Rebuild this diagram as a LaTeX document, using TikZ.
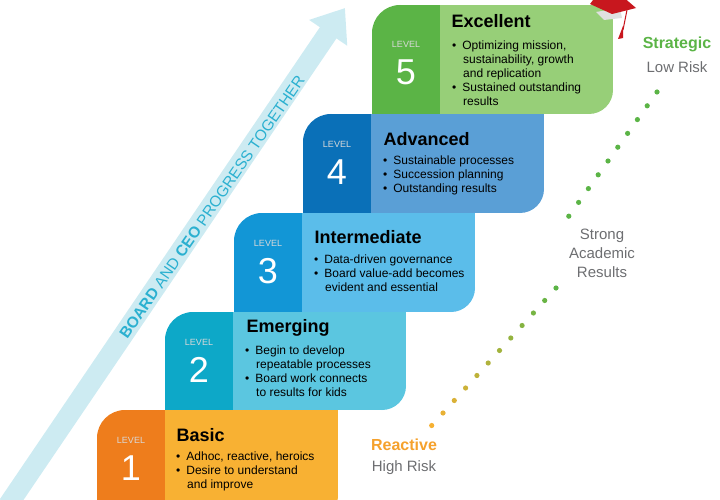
\documentclass[tikz,border=0pt]{standalone}
\usepackage{fontspec}
\setmainfont{Liberation Sans}
\usetikzlibrary{arrows.meta}
\definecolor{oDark}{HTML}{EE7D1C}
\definecolor{oLight}{HTML}{F8B133}
\definecolor{tDark}{HTML}{0DA8C8}
\definecolor{tLight}{HTML}{5BC6E0}
\definecolor{bDark}{HTML}{1296D6}
\definecolor{bLight}{HTML}{5BBDEA}
\definecolor{nDark}{HTML}{0A70B8}
\definecolor{nLight}{HTML}{5A9FD6}
\definecolor{gDark}{HTML}{5BB446}
\definecolor{gLight}{HTML}{97CF78}
\definecolor{arrowCol}{HTML}{CDEBF2}
\definecolor{arrowText}{HTML}{2BB0D0}
\definecolor{capRed}{HTML}{C8171E}
\definecolor{grayText}{HTML}{6D6E71}
\begin{document}
\begin{tikzpicture}
[
x=1pt, y=-1pt,
lvlText/.style={
	text=white!85!black,
	font=\fontsize{9}{10}\selectfont},
numText/.style={
	text=white,
	font=\fontsize{36}{38}\selectfont},
title/.style={
	anchor=west,
	font=\fontsize{18}{20}\selectfont\bfseries},
bullets/.style={
	anchor=north west,
	align=left,
	inner sep=0pt,
	font=\fontsize{12}{14}\selectfont},
sideText/.style={
	text=grayText,
	align=center,
	font=\fontsize{15}{19}\selectfont}
]
\useasboundingbox (0,0) rectangle (720,500);

%progress arrow
\coordinate (arrowStart) at (8,505);
\coordinate (arrowTip) at (345,8);
\draw [arrowCol, line width=20pt, -{Triangle[width=44pt,length=30pt]}] (arrowStart) -- (arrowTip);
\node [rotate=55.5, text=arrowText, font=\fontsize{15.5}{17}\selectfont] (arrowLabel) at (212,207)
	{\textbf{BOARD} AND \textbf{CEO} PROGRESS TOGETHER};

%steps
\foreach \n/\xa/\yt/\yb/\dy/\dk/\lt in
	{1/97/410/520/0/oDark/oLight,
	 2/165/312/410/0/tDark/tLight,
	 3/234/213/312/0/bDark/bLight,
	 4/303/114/213/0/nDark/nLight,
	 5/372/5/114/9/gDark/gLight}
{
	\pgfmathsetmacro\xb{\xa+68}
	\pgfmathsetmacro\xc{\xb+173}
	\fill [\dk] (\xa+28,\yt) rectangle (\xb,\yb);
	\fill [\dk] (\xa,\yt+28) rectangle (\xb,\yb);
	\fill [\dk] (\xa+28,\yt+28) circle (28);
	\fill [\lt] (\xb,\yt) rectangle (\xc-24,\yb);
	\fill [\lt] (\xb,\yt) rectangle (\xc,\yb-24);
	\fill [\lt] (\xc-24,\yb-24) circle (24);
	\node [lvlText] (lvl\n) at (\xa+34,\yt+30+\dy) {LEVEL};
	\node [numText] (num\n) at (\xa+34,\yt+58+\dy) {\n};
}

%titles
\node [title] (basic) at (173,435) {Basic};
\node [title] (emerging) at (243,328) {Emerging};
\node [title] (intermediate) at (311,237) {Intermediate};
\node [title] (advanced) at (380,139) {Advanced};
\node [title] (excellent) at (448,21) {Excellent};

%bullet lists
\node [bullets] (basicList) at (176,452)
	{\textbullet\hspace{6pt}Adhoc, reactive, heroics\\
	 \textbullet\hspace{6pt}Desire to understand\\
	 \hspace{11pt}and improve};
\node [bullets] (emergingList) at (245,346)
	{\textbullet\hspace{6pt}Begin to develop\\
	 \hspace{11pt}repeatable processes\\
	 \textbullet\hspace{6pt}Board work connects\\
	 \hspace{11pt}to results for kids};
\node [bullets] (intermediateList) at (314,255)
	{\textbullet\hspace{6pt}Data-driven governance\\
	 \textbullet\hspace{6pt}Board value-add becomes\\
	 \hspace{11pt}evident and essential};
\node [bullets] (advancedList) at (383,156)
	{\textbullet\hspace{6pt}Sustainable processes\\
	 \textbullet\hspace{6pt}Succession planning\\
	 \textbullet\hspace{6pt}Outstanding results};
\node [bullets] (excellentList) at (452,41)
	{\textbullet\hspace{6pt}Optimizing mission,\\
	 \hspace{11pt}sustainability, growth\\
	 \hspace{11pt}and replication\\
	 \textbullet\hspace{6pt}Sustained outstanding\\
	 \hspace{11pt}results};

%graduation cap
\fill [white!88!black] (596,12) -- (604,20) -- (622,18) -- (620,8) -- cycle;
\fill [capRed] (590,4) -- (612,14) -- (636,8) -- (622,-4) -- (596,-4) -- cycle;
\draw [capRed, line width=1pt] (627,10) -- (623,30);
\fill [capRed] (623,26) -- (618,39) -- (623,38) -- cycle;

%side labels
\node [font=\fontsize{16}{18}\selectfont\bfseries, text=gDark] (strategic) at (677,44) {Strategic};
\node [sideText] (lowRisk) at (677,67) {Low Risk};
\node [sideText] (academic) at (602,253) {Strong\\Academic\\Results};
\node [font=\fontsize{16}{18}\selectfont\bfseries, text=oLight!70!oDark] (reactive) at (404,445) {Reactive};
\node [sideText] (highRisk) at (404,468) {High Risk};

%dots
\foreach \i in {0,...,9}
	\fill [gDark] ({657-\i*9.8},{92+\i*13.8}) circle (2.6);
\foreach \i in {0,...,11}
{
	\pgfmathsetmacro\mix{100-\i*9}
	\fill [gDark!\mix!oLight] ({556-\i*11.3},{288+\i*12.5}) circle (2.6);
}
\end{tikzpicture}
\end{document}
